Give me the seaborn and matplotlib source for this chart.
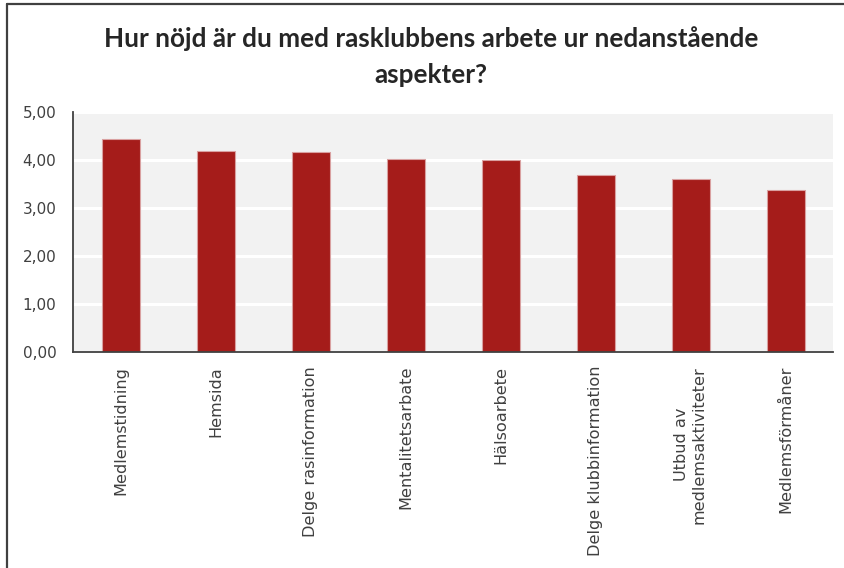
import matplotlib
matplotlib.use("Agg")
import matplotlib.pyplot as plt
from matplotlib.lines import Line2D
from matplotlib.ticker import FuncFormatter
import seaborn as sns
import pandas as pd

# Survey results: average satisfaction per aspect (scale 0-5)
aspects = [
    "Medlemstidning",
    "Hemsida",
    "Delge rasinformation",
    "Mentalitetsarbate",
    "Hälsoarbete",
    "Delge klubbinformation",
    "Utbud av\nmedlemsaktiviteter",
    "Medlemsförmåner",
]
scores = [4.44, 4.19, 4.16, 4.03, 4.00, 3.69, 3.60, 3.38]
y_ticks = [0, 1, 2, 3, 4, 5]
title = "Hur nöjd är du med rasklubbens arbete ur nedanstående\naspekter?"

df = pd.DataFrame({"aspekt": aspects, "medel": scores})

sns.set_theme(style="white")
plt.rcParams["font.family"] = ["DejaVu Sans"]

W, H = 844, 568
fig = plt.figure(figsize=(W / 100, H / 100), dpi=100)
ax = fig.add_axes([73 / W, 1 - 352 / H, (833 - 73) / W, 240 / H])

bar_color = "#A51C1A"
sns.barplot(data=df, x="aspekt", y="medel", color=bar_color, width=0.4,
            edgecolor="#D9A0A0", linewidth=0.8, saturation=1, ax=ax, zorder=3)

ax.set_facecolor("#F2F2F2")
ax.set_ylim(0, 5)
ax.set_xlim(-0.5, len(aspects) - 0.5)
ax.set_yticks(y_ticks)
ax.yaxis.set_major_formatter(FuncFormatter(lambda v, _: f"{v:.2f}".replace(".", ",")))
ax.grid(axis="y", color="white", linewidth=2.2, zorder=0)
ax.set_axisbelow(True)
ax.set_xlabel("")
ax.set_ylabel("")

for side in ("top", "right"):
    ax.spines[side].set_visible(False)
for side in ("left", "bottom"):
    ax.spines[side].set_color("#404040")
    ax.spines[side].set_linewidth(1.3)
    ax.spines[side].set_zorder(4)

ax.tick_params(axis="both", length=0, colors="#404040")
ax.tick_params(axis="y", pad=12, labelsize=11)
ax.tick_params(axis="x", pad=10)
for lbl in ax.get_xticklabels():
    lbl.set_rotation(90)
    lbl.set_ha("center")
    lbl.set_va("top")
    lbl.set_multialignment("center")
    lbl.set_fontsize(11.6)

fig.text(431 / W, 1 - 26 / H, title, ha="center", va="top",
         fontsize=18.8, fontweight="bold", color="#262626",
         family=["Lato", "DejaVu Sans"], linespacing=1.6)

# frame lines along the left and top edges
fig.add_artist(Line2D([7 / W, 7 / W], [0, 1 - 4 / H], transform=fig.transFigure,
                      color="#404040", linewidth=1.6))
fig.add_artist(Line2D([7 / W, 1], [1 - 4 / H, 1 - 4 / H], transform=fig.transFigure,
                      color="#404040", linewidth=1.6))

fig.savefig("out.png", dpi=100)
